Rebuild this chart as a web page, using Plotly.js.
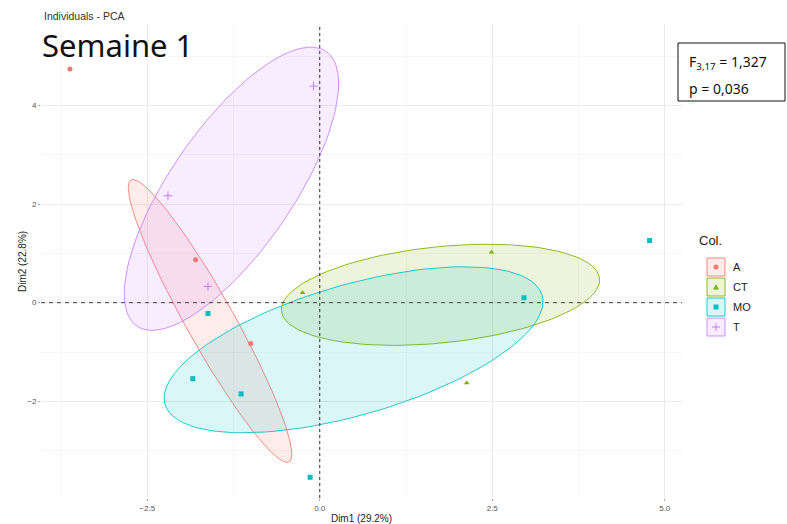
<!DOCTYPE html>
<html>
<head>
<meta charset="utf-8">
<script src="https://cdn.plot.ly/plotly-3.0.1.min.js"></script>
<style>
  html, body { margin: 0; padding: 0; background: #ffffff; }
  #chart { width: 787px; height: 524px; }
</style>
</head>
<body>
<div id="chart"></div>
<script>
// ---- data ----
const groups  = ['A', 'CT', 'MO', 'T'];
const colors  = ['#F8766D', '#7CAE00', '#00BFC4', '#C77CFF'];
const symbols = ['circle', 'triangle-up', 'square', 'cross-thin'];

const A_x  = [-3.62, -1.80, -1.00];
const A_y  = [ 4.74,  0.87, -0.83];
const CT_x = [-0.25,  2.49,  2.13];
const CT_y = [ 0.20,  1.02, -1.63];
const MO_x = [ 4.78,  2.96, -1.62, -1.84, -1.14, -0.14];
const MO_y = [ 1.26,  0.10, -0.22, -1.54, -1.85, -3.54];
const T_x  = [-0.09, -2.20, -1.62];
const T_y  = [ 4.39,  2.17,  0.33];

// ellipse parameters per group (centre, semi-axes, rotation in degrees)
const ellCx  = [-1.59, 1.75,  0.49, -1.28];
const ellCy  = [-0.37, 0.16, -0.955, 2.31];
const ellA   = [ 3.08, 2.33,  2.96,  3.12];
const ellB   = [ 0.37, 0.97,  1.27,  0.96];
const ellAng = [-68.4, 9.0,  24.4,  65.7];

const xTitle = 'Dim1 (29.2%)';
const yTitle = 'Dim2 (22.8%)';
const mainTitle = 'Individuals - PCA';
const weekLabel = 'Semaine 1';
const statLine1 = 'F<sub>3,17</sub> = 1,327';
const statLine2 = 'p = 0,036';
const legendTitle = 'Col.';

const ptsX = [A_x, CT_x, MO_x, T_x];
const ptsY = [A_y, CT_y, MO_y, T_y];

function hexA(hex, a) {
  const r = parseInt(hex.slice(1,3),16), g = parseInt(hex.slice(3,5),16), b = parseInt(hex.slice(5,7),16);
  return 'rgba(' + r + ',' + g + ',' + b + ',' + a + ')';
}

function ellipse(i) {
  const n = 120, xs = [], ys = [];
  const th = ellAng[i] * Math.PI / 180;
  for (let k = 0; k <= n; k++) {
    const t = 2 * Math.PI * k / n;
    const u = ellA[i] * Math.cos(t), v = ellB[i] * Math.sin(t);
    xs.push(ellCx[i] + u * Math.cos(th) - v * Math.sin(th));
    ys.push(ellCy[i] + u * Math.sin(th) + v * Math.cos(th));
  }
  return {x: xs, y: ys};
}

const traces = [];
groups.forEach((g, i) => {
  const e = ellipse(i);
  traces.push({
    type: 'scatter', mode: 'lines', x: e.x, y: e.y, fill: 'toself',
    fillcolor: hexA(colors[i], 0.14), line: {color: hexA(colors[i], 0.85), width: 1},
    hoverinfo: 'skip', showlegend: false
  });
});
groups.forEach((g, i) => {
  const isCross = symbols[i] === 'cross-thin';
  traces.push({
    type: 'scatter', mode: 'markers', name: g, x: ptsX[i], y: ptsY[i],
    marker: {
      symbol: symbols[i], size: isCross ? 6 : 5, color: colors[i],
      line: {color: colors[i], width: isCross ? 1 : 0}
    },
    showlegend: false
  });
});

// ---- layout geometry ----
const W = 787, H = 524;
const M = {l: 41, r: 105, t: 24, b: 26};
const pw = W - M.l - M.r, ph = H - M.t - M.b;
const px2x = px => (px - M.l) / pw;
const py2y = py => (H - M.b - py) / ph;

const shapes = [
  {type: 'line', xref: 'x', yref: 'paper', x0: 0, x1: 0, y0: 0, y1: 1,
   line: {color: '#333333', width: 1, dash: '3px,3px'}, layer: 'above'},
  {type: 'line', xref: 'paper', yref: 'y', x0: 0, x1: 1, y0: 0, y1: 0,
   line: {color: '#444444', width: 1, dash: '4px,4px'}, layer: 'above'},
  // statistics box
  {type: 'rect', xref: 'paper', yref: 'paper',
   x0: px2x(678), x1: px2x(785), y0: py2y(101), y1: py2y(43),
   line: {color: '#111111', width: 1}, fillcolor: '#ffffff', layer: 'above'}
];

const annotations = [
  {xref: 'paper', yref: 'paper', x: px2x(42), y: py2y(16), xanchor: 'left', yanchor: 'middle',
   text: mainTitle, showarrow: false, font: {family: 'Liberation Sans, Arial, sans-serif', size: 10.5, color: '#333333'}},
  {xref: 'paper', yref: 'paper', x: px2x(40), y: py2y(45), xanchor: 'left', yanchor: 'middle',
   text: weekLabel, showarrow: false, font: {family: 'Noto Sans, sans-serif', size: 31, color: '#111111'}},
  {xref: 'paper', yref: 'paper', x: px2x(687), y: py2y(62), xanchor: 'left', yanchor: 'middle',
   text: statLine1, showarrow: false, font: {family: 'Noto Sans, sans-serif', size: 14, color: '#111111'}},
  {xref: 'paper', yref: 'paper', x: px2x(687), y: py2y(88), xanchor: 'left', yanchor: 'middle',
   text: statLine2, showarrow: false, font: {family: 'Noto Sans, sans-serif', size: 14, color: '#111111'}},
  {xref: 'paper', yref: 'paper', x: px2x(697), y: py2y(241), xanchor: 'left', yanchor: 'middle',
   text: legendTitle, showarrow: false, font: {family: 'Liberation Sans, Arial, sans-serif', size: 13, color: '#222222'}},
  {xref: 'paper', yref: 'paper', x: px2x(22), y: py2y(262), xanchor: 'center', yanchor: 'middle',
   textangle: -90, text: yTitle, showarrow: false,
   font: {family: 'Liberation Sans, Arial, sans-serif', size: 10, color: '#222222'}}
];

// manual legend (keys with bordered boxes, as in ggplot)
const keyX = 716, keyY0 = 267, keyStep = 20, keyHalf = 9;
groups.forEach((g, i) => {
  const cy = keyY0 + i * keyStep;
  const ax = px2x(keyX), ay = py2y(cy);
  shapes.push({type: 'rect', xref: 'paper', yref: 'paper', xsizemode: 'pixel', ysizemode: 'pixel',
    xanchor: ax, yanchor: ay, x0: -keyHalf, x1: keyHalf, y0: -keyHalf, y1: keyHalf,
    line: {color: hexA(colors[i], 0.85), width: 1}, fillcolor: hexA(colors[i], 0.14)});
  const common = {xref: 'paper', yref: 'paper', xsizemode: 'pixel', ysizemode: 'pixel', xanchor: ax, yanchor: ay};
  if (symbols[i] === 'circle') {
    shapes.push(Object.assign({type: 'circle', x0: -2.5, x1: 2.5, y0: -2.5, y1: 2.5,
      line: {width: 0}, fillcolor: colors[i]}, common));
  } else if (symbols[i] === 'triangle-up') {
    shapes.push(Object.assign({type: 'path', path: 'M-3,-2.5 L3,-2.5 L0,2.8 Z',
      line: {width: 0}, fillcolor: colors[i]}, common));
  } else if (symbols[i] === 'square') {
    shapes.push(Object.assign({type: 'rect', x0: -2.5, x1: 2.5, y0: -2.5, y1: 2.5,
      line: {width: 0}, fillcolor: colors[i]}, common));
  } else {
    shapes.push(Object.assign({type: 'path', path: 'M-4,0 L4,0 M0,-4 L0,4',
      line: {width: 1, color: colors[i]}}, common));
  }
  annotations.push({xref: 'paper', yref: 'paper', x: px2x(731), y: ay, xanchor: 'left', yanchor: 'middle',
    text: g, showarrow: false, font: {family: 'Liberation Sans, Arial, sans-serif', size: 11, color: '#222222'}});
});

const layout = {
  width: W, height: H, margin: M,
  paper_bgcolor: '#ffffff', plot_bgcolor: '#ffffff',
  showlegend: false,
  xaxis: {
    range: [-4.04, 5.25], tick0: 0, dtick: 2.5, tickformat: '.1f',
    showgrid: true, gridcolor: '#ebebeb', gridwidth: 1, zeroline: false, showline: false,
    ticks: 'outside', ticklen: 2, tickcolor: '#aaaaaa',
    minor: {tick0: 0, dtick: 1.25, showgrid: true, gridcolor: '#f4f4f4', gridwidth: 0.8},
    tickfont: {family: 'Liberation Sans, Arial, sans-serif', size: 8, color: '#555555'},
    title: {text: xTitle, standoff: 4, font: {family: 'Liberation Sans, Arial, sans-serif', size: 10, color: '#222222'}},
    fixedrange: true
  },
  yaxis: {
    range: [-3.96, 5.65], tick0: 0, dtick: 2,
    showgrid: true, gridcolor: '#ebebeb', gridwidth: 1, zeroline: false, showline: false,
    ticks: 'outside', ticklen: 2, tickcolor: '#aaaaaa',
    minor: {tick0: 0, dtick: 1, showgrid: true, gridcolor: '#f4f4f4', gridwidth: 0.8},
    tickfont: {family: 'Liberation Sans, Arial, sans-serif', size: 8, color: '#555555'},
    fixedrange: true
  },
  shapes: shapes,
  annotations: annotations
};

Plotly.newPlot('chart', traces, layout, {displayModeBar: false, staticPlot: true});
</script>
</body>
</html>
